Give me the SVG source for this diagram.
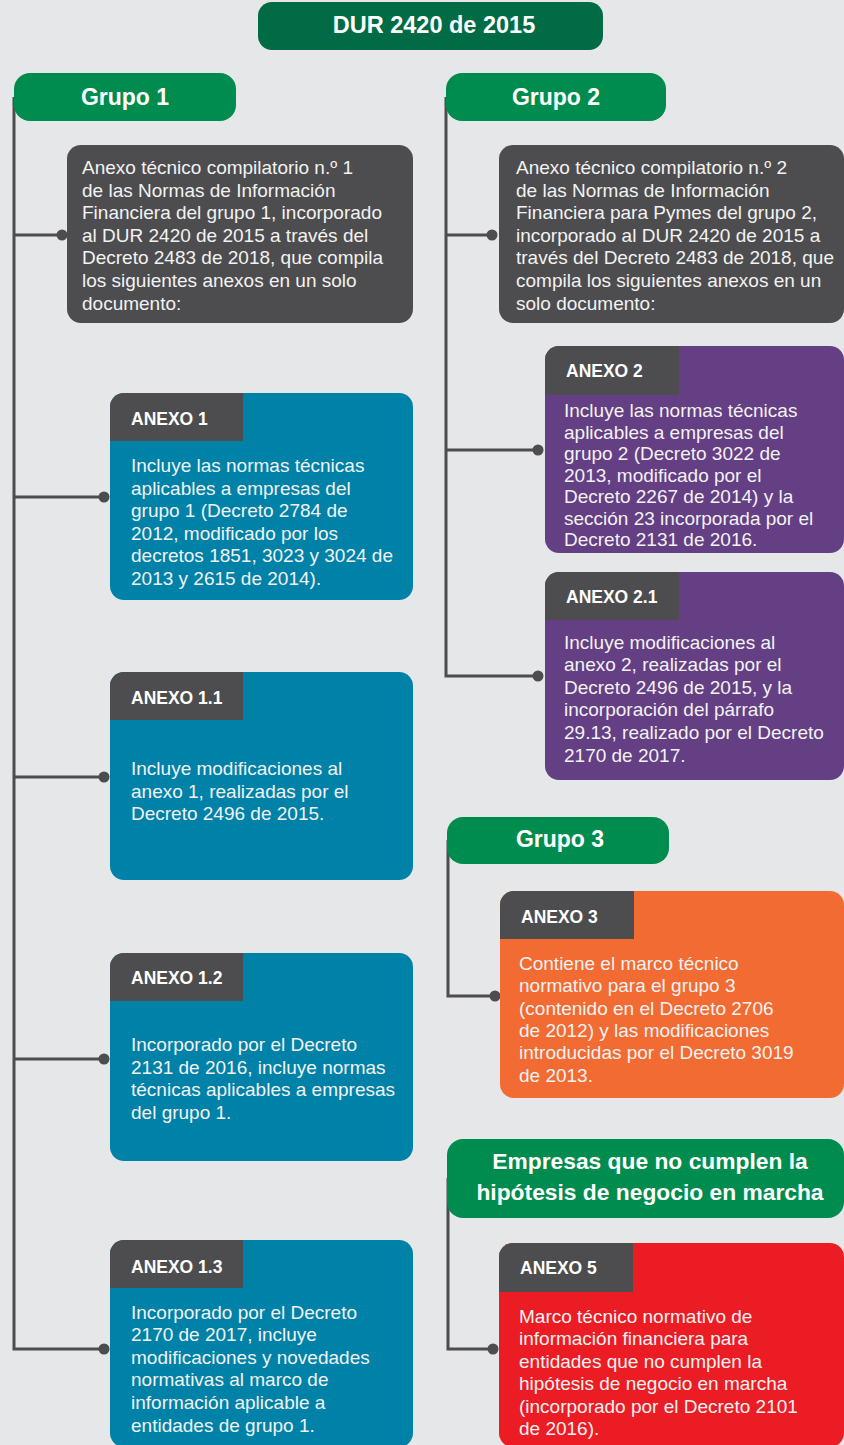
<svg xmlns="http://www.w3.org/2000/svg" width="844" height="1445" viewBox="0 0 844 1445">
<style>
.hdr{fill:#008c4e}
.ttl{fill:#006b45}
.gray{fill:#4d4d4f}
.teal{fill:#0082a8}
.purple{fill:#643f84}
.orange{fill:#f26b33}
.red{fill:#ec1c24}
.ht{font-family:"Liberation Sans",Arial,sans-serif;font-weight:bold;fill:#ffffff;text-anchor:middle}
.tab{font-family:"Liberation Sans",Arial,sans-serif;font-weight:bold;font-size:17.5px;fill:#ffffff}
.body{font-family:"Liberation Sans",Arial,sans-serif;font-size:19px;fill:#f2f2f2}
.con{fill:none;stroke:#4d4d4f;stroke-width:3}
.dot{fill:#4d4d4f}
</style>
<rect width="844" height="1445" fill="#e6e7e8"/>

<g id="connectors">
  <path class="con" d="M14 97 V1349 H104"/>
  <path class="con" d="M14 235 H62"/>
  <path class="con" d="M14 497 H104"/>
  <path class="con" d="M14 777 H104"/>
  <path class="con" d="M14 1059 H104"/>
  <circle class="dot" cx="62" cy="235" r="5.5"/>
  <circle class="dot" cx="104" cy="497" r="5.5"/>
  <circle class="dot" cx="104" cy="777" r="5.5"/>
  <circle class="dot" cx="104" cy="1059" r="5.5"/>
  <circle class="dot" cx="104" cy="1349" r="5.5"/>
  <path class="con" d="M446 97 V676 H538"/>
  <path class="con" d="M446 235 H492"/>
  <path class="con" d="M446 450 H538"/>
  <circle class="dot" cx="492" cy="235" r="5.5"/>
  <circle class="dot" cx="538" cy="450" r="5.5"/>
  <circle class="dot" cx="538" cy="676" r="5.5"/>
  <path class="con" d="M448 840 V996 H495"/>
  <circle class="dot" cx="495" cy="996" r="5.5"/>
  <path class="con" d="M448 1178 V1349 H493"/>
  <circle class="dot" cx="493" cy="1349" r="5.5"/>
</g>

<g id="title">
  <rect class="ttl" x="258" y="2" width="345" height="48" rx="14"/>
  <text class="ht" x="434" y="33" font-size="23.5">DUR 2420 de 2015</text>
</g>

<g id="grupo1">
  <rect class="hdr" x="14" y="73" width="222" height="48" rx="16"/>
  <text class="ht" x="125" y="105" font-size="23">Grupo 1</text>
</g>

<g id="grupo2">
  <rect class="hdr" x="446" y="73" width="220" height="48" rx="16"/>
  <text class="ht" x="556" y="105" font-size="23">Grupo 2</text>
</g>

<g id="compilatorio1">
  <rect class="gray" x="67" y="145" width="346" height="178" rx="14"/>
  <text class="body">
    <tspan x="82" y="174">Anexo técnico compilatorio n.º 1</tspan>
    <tspan x="82" y="196.6">de las Normas de Información</tspan>
    <tspan x="82" y="219.2">Financiera del grupo 1, incorporado</tspan>
    <tspan x="82" y="241.8">al DUR 2420 de 2015 a través del</tspan>
    <tspan x="82" y="264.4">Decreto 2483 de 2018, que compila</tspan>
    <tspan x="82" y="287">los siguientes anexos en un solo</tspan>
    <tspan x="82" y="309.6">documento:</tspan>
  </text>
</g>

<g id="compilatorio2">
  <rect class="gray" x="499" y="145" width="345" height="178" rx="14"/>
  <text class="body">
    <tspan x="516" y="174">Anexo técnico compilatorio n.º 2</tspan>
    <tspan x="516" y="196.6">de las Normas de Información</tspan>
    <tspan x="516" y="219.2">Financiera para Pymes del grupo 2,</tspan>
    <tspan x="516" y="241.8">incorporado al DUR 2420 de 2015 a</tspan>
    <tspan x="516" y="264.4">través del Decreto 2483 de 2018, que</tspan>
    <tspan x="516" y="287">compila los siguientes anexos en un</tspan>
    <tspan x="516" y="309.6">solo documento:</tspan>
  </text>
</g>

<g id="anexo1">
  <rect class="teal" x="110" y="393" width="303" height="207" rx="14"/>
  <path class="gray" d="M110 407 A14 14 0 0 1 124 393 H243 V441 H110 Z"/>
  <text class="tab" x="131" y="425">ANEXO 1</text>
  <text class="body">
    <tspan x="131" y="472">Incluye las normas técnicas</tspan>
    <tspan x="131" y="494.6">aplicables a empresas del</tspan>
    <tspan x="131" y="517.2">grupo 1 (Decreto 2784 de</tspan>
    <tspan x="131" y="539.8">2012, modificado por los</tspan>
    <tspan x="131" y="562.4">decretos 1851, 3023 y 3024 de</tspan>
    <tspan x="131" y="585">2013 y 2615 de 2014).</tspan>
  </text>
</g>

<g id="anexo1_1">
  <rect class="teal" x="110" y="672" width="303" height="208" rx="14"/>
  <path class="gray" d="M110 686 A14 14 0 0 1 124 672 H243 V720 H110 Z"/>
  <text class="tab" x="131" y="704">ANEXO 1.1</text>
  <text class="body">
    <tspan x="131" y="775">Incluye modificaciones al</tspan>
    <tspan x="131" y="797.6">anexo 1, realizadas por el</tspan>
    <tspan x="131" y="820.2">Decreto 2496 de 2015.</tspan>
  </text>
</g>

<g id="anexo1_2">
  <rect class="teal" x="110" y="953" width="303" height="208" rx="14"/>
  <path class="gray" d="M110 967 A14 14 0 0 1 124 953 H243 V1001 H110 Z"/>
  <text class="tab" x="131" y="984">ANEXO 1.2</text>
  <text class="body">
    <tspan x="131" y="1051">Incorporado por el Decreto</tspan>
    <tspan x="131" y="1073.6">2131 de 2016, incluye normas</tspan>
    <tspan x="131" y="1096.2">técnicas aplicables a empresas</tspan>
    <tspan x="131" y="1118.8">del grupo 1.</tspan>
  </text>
</g>

<g id="anexo1_3">
  <rect class="teal" x="110" y="1240" width="303" height="207" rx="14"/>
  <path class="gray" d="M110 1254 A14 14 0 0 1 124 1240 H243 V1288 H110 Z"/>
  <text class="tab" x="131" y="1273">ANEXO 1.3</text>
  <text class="body">
    <tspan x="131" y="1318.5">Incorporado por el Decreto</tspan>
    <tspan x="131" y="1341.1">2170 de 2017, incluye</tspan>
    <tspan x="131" y="1363.7">modificaciones y novedades</tspan>
    <tspan x="131" y="1386.3">normativas al marco de</tspan>
    <tspan x="131" y="1408.9">información aplicable a</tspan>
    <tspan x="131" y="1431.5">entidades de grupo 1.</tspan>
  </text>
</g>

<g id="anexo2">
  <rect class="purple" x="545" y="346" width="299" height="207" rx="14"/>
  <path class="gray" d="M545 360 A14 14 0 0 1 559 346 H679 V395 H545 Z"/>
  <text class="tab" x="566" y="377">ANEXO 2</text>
  <text class="body">
    <tspan x="564" y="417">Incluye las normas técnicas</tspan>
    <tspan x="564" y="438.5">aplicables a empresas del</tspan>
    <tspan x="564" y="460">grupo 2 (Decreto 3022 de</tspan>
    <tspan x="564" y="481.5">2013, modificado por el</tspan>
    <tspan x="564" y="503">Decreto 2267 de 2014) y la</tspan>
    <tspan x="564" y="524.5">sección 23 incorporada por el</tspan>
    <tspan x="564" y="546">Decreto 2131 de 2016.</tspan>
  </text>
</g>

<g id="anexo2_1">
  <rect class="purple" x="545" y="572" width="299" height="208" rx="14"/>
  <path class="gray" d="M545 586 A14 14 0 0 1 559 572 H679 V620 H545 Z"/>
  <text class="tab" x="566" y="603">ANEXO 2.1</text>
  <text class="body">
    <tspan x="564" y="648.5">Incluye modificaciones al</tspan>
    <tspan x="564" y="671.1">anexo 2, realizadas por el</tspan>
    <tspan x="564" y="693.7">Decreto 2496 de 2015, y la</tspan>
    <tspan x="564" y="716.3">incorporación del párrafo</tspan>
    <tspan x="564" y="738.9">29.13, realizado por el Decreto</tspan>
    <tspan x="564" y="761.5">2170 de 2017.</tspan>
  </text>
</g>

<g id="grupo3">
  <rect class="hdr" x="447" y="817" width="222" height="47" rx="16"/>
  <text class="ht" x="560" y="847" font-size="23">Grupo 3</text>
</g>

<g id="anexo3">
  <rect class="orange" x="500" y="891" width="344" height="207" rx="14"/>
  <path class="gray" d="M500 905 A14 14 0 0 1 514 891 H634 V939 H500 Z"/>
  <text class="tab" x="521" y="923">ANEXO 3</text>
  <text class="body">
    <tspan x="519" y="970">Contiene el marco técnico</tspan>
    <tspan x="519" y="992.3">normativo para el grupo 3</tspan>
    <tspan x="519" y="1014.6">(contenido en el Decreto 2706</tspan>
    <tspan x="519" y="1036.9">de 2012) y las modificaciones</tspan>
    <tspan x="519" y="1059.2">introducidas por el Decreto 3019</tspan>
    <tspan x="519" y="1081.5">de 2013.</tspan>
  </text>
</g>

<g id="empresas">
  <rect class="hdr" x="447" y="1139" width="397" height="79" rx="16"/>
  <text class="ht" x="650" y="1169" font-size="22.8">Empresas que no cumplen la</text>
  <text class="ht" x="650" y="1200" font-size="22.8">hipótesis de negocio en marcha</text>
</g>

<g id="anexo5">
  <rect class="red" x="499" y="1243" width="345" height="204" rx="14"/>
  <path class="gray" d="M499 1257 A14 14 0 0 1 513 1243 H633 V1292 H499 Z"/>
  <text class="tab" x="520" y="1274">ANEXO 5</text>
  <text class="body">
    <tspan x="519" y="1322.5">Marco técnico normativo de</tspan>
    <tspan x="519" y="1345">información financiera para</tspan>
    <tspan x="519" y="1367.5">entidades que no cumplen la</tspan>
    <tspan x="519" y="1390">hipótesis de negocio en marcha</tspan>
    <tspan x="519" y="1412.5">(incorporado por el Decreto 2101</tspan>
    <tspan x="519" y="1435">de 2016).</tspan>
  </text>
</g>
</svg>
